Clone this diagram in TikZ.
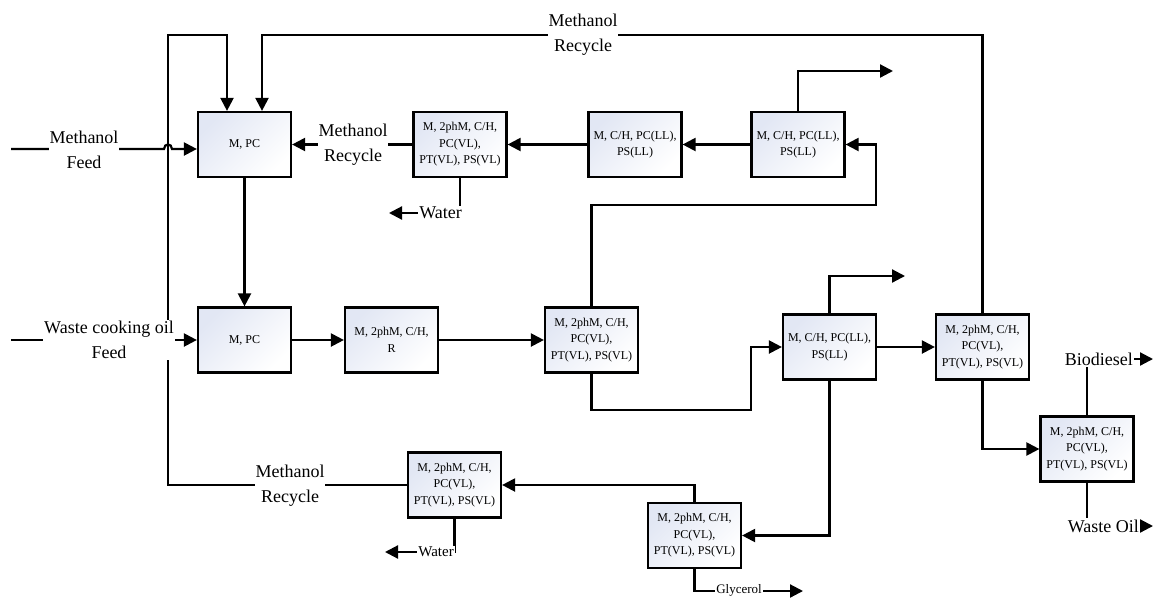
\documentclass[tikz,border=0pt]{standalone}
\usepackage{fontspec}
\setmainfont{Liberation Serif}
\usetikzlibrary{arrows.meta,calc}
\pgfdeclarelayer{bg}
\pgfsetlayers{bg,main}
\definecolor{boxtop}{RGB}{226,231,244}
\tikzset{
  unit/.style={draw=black, line width=2.2pt, top color=boxtop, bottom color=white, shading angle=45,
    minimum width=93pt, minimum height=65pt, inner sep=1pt, align=center,
    font=\fontsize{12}{16.5}\selectfont},
  lbl/.style={fill=white, inner sep=1pt, align=center, font=\fontsize{18}{25}\selectfont},
  flow/.style={line width=2.2pt, -{Triangle[length=13pt,width=13pt]}},
  pipe/.style={line width=2.2pt},
}
\begin{document}
\begin{tikzpicture}[x=1pt,y=-1pt]
\useasboundingbox (0,0) rectangle (1154,598);
% units
\node[unit] (m1) at (244.5,144.5) {M, PC};
\node[unit] (b2) at (460,144.5) {M, 2phM, C/H,\\PC(VL),\\PT(VL), PS(VL)};
\node[unit] (b3) at (635,144.5) {M, C/H, PC(LL),\\PS(LL)};
\node[unit] (b4) at (798,144.5) {M, C/H, PC(LL),\\PS(LL)};
\node[unit] (m2) at (244.5,340) {M, PC};
\node[unit] (r) at (391.5,340) {M, 2phM, C/H,\\R};
\node[unit] (b5) at (591.5,340) {M, 2phM, C/H,\\PC(VL),\\PT(VL), PS(VL)};
\node[unit] (b6) at (829.5,347) {M, C/H, PC(LL),\\PS(LL)};
\node[unit] (b7) at (982.5,347) {M, 2phM, C/H,\\PC(VL),\\PT(VL), PS(VL)};
\node[unit] (b8) at (1087,449) {M, 2phM, C/H,\\PC(VL),\\PT(VL), PS(VL)};
\node[unit] (b9) at (454.5,485) {M, 2phM, C/H,\\PC(VL),\\PT(VL), PS(VL)};
\node[unit] (b10) at (694.5,535.5) {M, 2phM, C/H,\\PC(VL),\\PT(VL), PS(VL)};
% labels
\node[lbl] (lmf) at (84,150) {Methanol\\Feed};
\node[lbl] (lwco) at (109,340) {Waste cooking oil\\Feed};
\node[lbl] (lmr1) at (353,145) {Methanol\\Recycle};
\node[lbl] (lmr2) at (583,35) {Methanol\\Recycle};
\node[lbl] (lmr3) at (290,486) {Methanol\\Recycle};
\node[lbl, anchor=east] (lw1) at (463,213) {Water};
\node[lbl, anchor=east, font=\fontsize{15}{18}\selectfont] (lw2) at (455,552) {Water};
\node[lbl, font=\fontsize{13}{15}\selectfont] (lgly) at (739,590.5) {Glycerol};
\node[lbl, anchor=east] (lbio) at (1134,359) {Biodiesel};
\node[lbl, anchor=east] (lwo) at (1140,526) {Waste Oil};
% coordinates
\coordinate (mfin) at (11,149);
\coordinate (wcoin) at (11,340);
\coordinate (hop) at (168,149);
\coordinate (lcorner) at (168,35);
\coordinate (rcorner) at (982.5,35);
\coordinate (out1) at (893,71);
\coordinate (out2) at (905,276);
\coordinate (c1) at (876,205);
\coordinate (c2) at (751,410);
\coordinate (wout1) at (389,213);
\coordinate (wout2) at (385,552);
\coordinate (glyout) at (803,591);
\coordinate (bioout) at (1153,359);
\coordinate (woout) at (1153,526);
\begin{pgfonlayer}{bg}
\draw[flow] (mfin) -- ($(hop)+(-4,0)$) .. controls ($(hop)+(-4,-6)$) and ($(hop)+(4,-6)$) .. ($(hop)+(4,0)$) -- (m1.west |- mfin);
\draw[flow] (wcoin) -- (m2.west);
\draw[flow] (b9.west) -| (lcorner) -| ([xshift=-17.5pt]m1.north);
\draw[flow] (b7.north) -- (rcorner) -| ([xshift=17.5pt]m1.north);
\draw[flow] (b2.west) -- (m1.east);
\draw[flow] (b3.west) -- (b2.east);
\draw[flow] (b4.west) -- (b3.east);
\draw[flow] (b4.north) |- (out1);
\draw[flow] (b5.north) |- (c1) |- (b4.east);
\draw[pipe] (b2.south) -- (b2.south |- lw1.north);
\draw[flow] (lw1.west) -- (wout1);
\draw[flow] (m1.south) -- (m2.north);
\draw[flow] (m2.east) -- (r.west);
\draw[flow] (r.east) -- (b5.west);
\draw[flow] (b5.south) |- (c2) |- (b6.west);
\draw[flow] (b6.north) |- (out2);
\draw[flow] (b6.east) -- (b7.west);
\draw[flow] (b6.south) |- (b10.east);
\draw[flow] (b10.north) |- (b9.east);
\draw[pipe] (b9.south) |- (lw2.east);
\draw[flow] (lw2.west) -- (wout2);
\draw[flow] (b10.south) |- (glyout);
\draw[flow] (b7.south) |- (b8.west);
\draw[pipe] (b8.north) -- (b8.north |- lbio.south);
\draw[flow] (lbio.east) -- (bioout);
\draw[pipe] (b8.south) -- (b8.south |- lwo.north);
\draw[flow] (lwo.east) -- (woout);
\end{pgfonlayer}
\end{tikzpicture}
\end{document}
